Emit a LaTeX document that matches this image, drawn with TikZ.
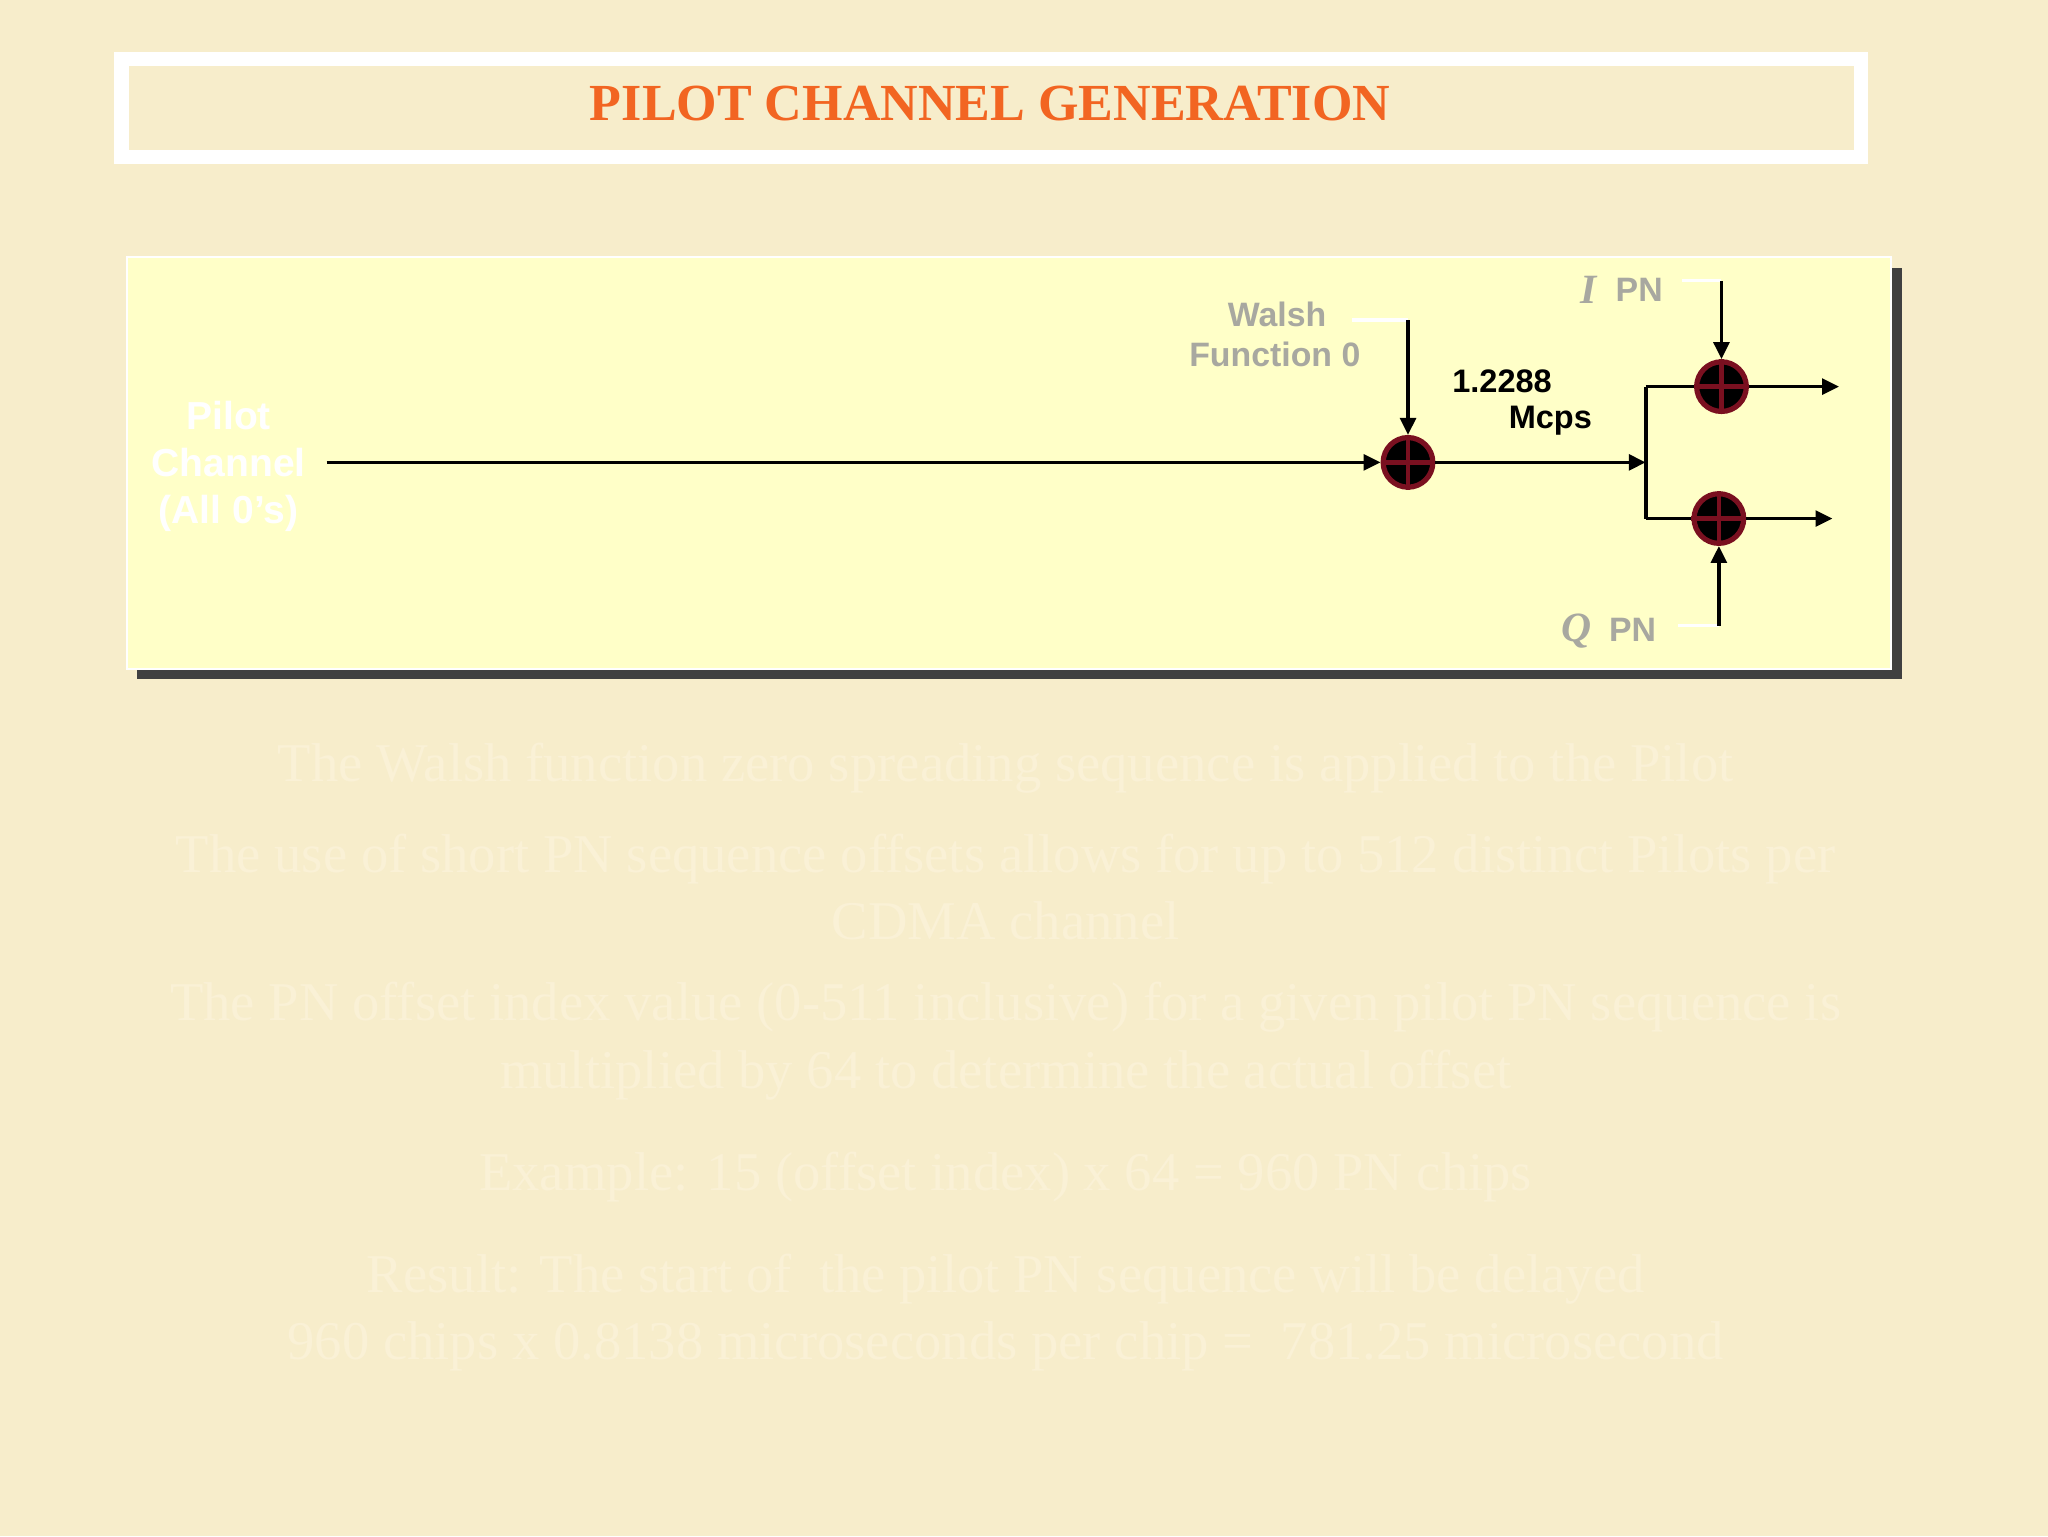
\documentclass[tikz,border=0pt]{standalone}
\usepackage{fontspec}
\setmainfont{Liberation Serif}
\setsansfont{Liberation Sans}
\usetikzlibrary{arrows.meta}
\definecolor{bg}{HTML}{F7EDCB}
\definecolor{panel}{HTML}{FFFFC8}
\definecolor{ttl}{HTML}{F26522}
\definecolor{lbl}{HTML}{A8A8A0}
\definecolor{faint}{HTML}{FAF1D6}
\definecolor{xred}{HTML}{7A1020}
\begin{document}
\begin{tikzpicture}[x=1bp,y=-1bp,
  sig/.style={line width=2.8bp,-{Triangle[length=13bp,width=12bp]}},
  wire/.style={line width=2.8bp},
  wline/.style={line width=2.5bp,white},
  xorc/.style={circle,fill=black,draw=xred,line width=4bp,minimum size=38bp,inner sep=0pt},
  gl/.style={font=\sffamily\bfseries\fontsize{26}{31}\selectfont,text=lbl,align=right},
  bl/.style={font=\sffamily\bfseries\fontsize{25}{30}\selectfont,text=black},
  body/.style={font=\fontsize{42}{52}\selectfont,text=faint,align=center}]
\useasboundingbox (0,0) rectangle (1568,1176);
\fill[bg] (0,0) rectangle (1568,1176);
% title
\draw[white,line width=11bp] (93,45) rectangle (1425,120);
\node[font=\bfseries\fontsize{40}{44}\selectfont,text=ttl] (title) at (758,79) {PILOT CHANNEL GENERATION};
% panel
\fill[black!75] (105,205) rectangle (1456,520);
\draw[white,line width=1.5bp,fill=panel] (97,197) rectangle (1448,512);
% nodes
\node[font=\sffamily\bfseries\fontsize{30}{36}\selectfont,text=white,align=center] (pilot) at (175,357) {Pilot\\Channel\\(All 0's)};
\coordinate (pin) at (250,354);
\node[xorc] (x1) at (1078,354) {};
\node[xorc] (x2) at (1318,296) {};
\node[xorc] (x3) at (1316,397) {};
\foreach \n in {x1,x2,x3}{
  \draw[xred,line width=3.5bp] (\n.north) -- (\n.south) (\n.west) -- (\n.east);}
\coordinate (sp) at (1260,354);
\coordinate (o2) at (1408,296);
\coordinate (o3) at (1403,397);
\coordinate (wt) at (1078,245);
\coordinate (wl) at (1035,245);
\coordinate (it) at (1318,215);
\coordinate (il) at (1288,215);
\coordinate (qt) at (1316,479);
\coordinate (ql) at (1285,479);
\node[gl,anchor=east] (walsh) at (1045,256) {Walsh\hspace*{26bp}\\Function 0};
\node[font=\fontsize{32}{32}\selectfont\itshape\bfseries,text=lbl] (iI) at (1216,222) {I};
\node[gl] (ipn) at (1255,222) {PN};
\node[font=\fontsize{32}{32}\selectfont\itshape\bfseries,text=lbl] (qQ) at (1207,483) {Q};
\node[gl] (qpn) at (1250,482) {PN};
\node[bl] (rate1) at (1150,292) {1.2288};
\node[bl] (rate2) at (1187,322) {Mcps};
% connectors
\draw[sig] (pin) -- (x1.west);
\draw[wline] (wl) -- (wt);
\draw[sig] (wt) -- (x1.north);
\draw[sig] (x1.east) -- (sp);
\draw[wire] (x2.west -| sp) -- (x3.west -| sp);
\draw[wire] (x2.west -| sp) -- (x2.west);
\draw[wire] (x3.west -| sp) -- (x3.west);
\draw[sig] (x2.east) -- (o2);
\draw[sig] (x3.east) -- (o3);
\draw[wline] (il) -- (it);
\draw[sig] (it) -- (x2.north);
\draw[wline] (ql) -- (qt);
\draw[sig] (qt) -- (x3.south);
% body text
\node[body] (t1) at (770,588) {The Walsh function zero spreading sequence is applied to the Pilot};
\node[body] (t2) at (770,679) {The use of short PN sequence offsets allows for up to 512 distinct Pilots per\\CDMA channel};
\node[body] (t3) at (770,797) {The PN offset index value (0-511 inclusive) for a given pilot PN sequence is\\multiplied by 64 to determine the actual offset};
\node[body] (t4) at (770,901) {Example: 15 (offset index) x 64 = 960 PN chips};
\node[body] (t5) at (770,1005) {Result: The start of \ the pilot PN sequence will be delayed\\960 chips x 0.8138 microseconds per chip = \ 781.25 microsecond};
\end{tikzpicture}
\end{document}
